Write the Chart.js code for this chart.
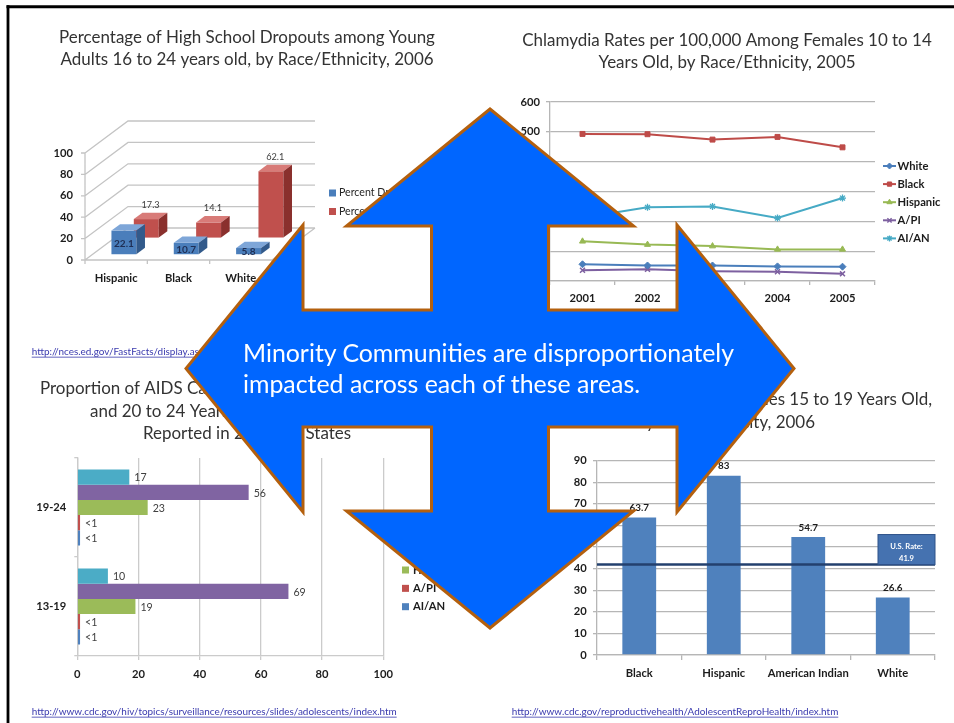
<!DOCTYPE html>
<html>
<head>
<meta charset="utf-8">
<title>Minority Communities</title>
<script src="https://cdn.jsdelivr.net/npm/chart.js@4.4.1/dist/chart.umd.min.js"></script>
<style>
  html, body { margin: 0; padding: 0; background: #ffffff; }
  #slide { position: relative; width: 954px; height: 723px; overflow: hidden; background: #ffffff; }
  #slide canvas { position: absolute; }
  #overlay { position: absolute; left: 0; top: 0; }
</style>
</head>
<body>
<div id="slide">
  <canvas id="chartA"></canvas>
  <canvas id="chartB"></canvas>
  <canvas id="chartC"></canvas>
  <canvas id="chartD"></canvas>
  <svg id="overlay" width="954" height="723" xmlns="http://www.w3.org/2000/svg"></svg>
</div>
<script>
// ---------------- DATA ----------------
const dropoutCategories = ['Hispanic', 'Black', 'White'];
const dropoutSeriesNames = ['Percent Dropouts', 'Percent of Population'];
const percentDropouts = [22.1, 10.7, 5.8];
const percentPopulation = [17.3, 14.1, 62.1];
const dropoutTicks = [0, 20, 40, 60, 80, 100];

const raceGroups = ['White', 'Black', 'Hispanic', 'A/PI', 'AI/AN'];

const chlamydiaYears = ['2001', '2002', '2003', '2004', '2005'];
const chlamydiaWhite = [56, 52, 52, 49, 48];
const chlamydiaBlack = [493, 492, 474, 483, 448];
const chlamydiaHispanic = [133, 122, 117, 106, 106];
const chlamydiaAPI = [36, 39, 33, 31, 24];
const chlamydiaAIAN = [212, 247, 250, 211, 278];
const chlamydiaTicks = [0, 100, 200, 300, 400, 500, 600];

const aidsAgeGroups = ['19-24', '13-19'];
const aidsWhite = [17, 10];
const aidsBlack = [56, 69];
const aidsHispanic = [23, 19];
const aidsAPI = [0.9, 0.9];
const aidsAIAN = [0.9, 0.9];
const aidsTicks = [0, 20, 40, 60, 80, 100];

const birthCategories = ['Black', 'Hispanic', 'American Indian', 'White'];
const birthRates = [63.7, 83, 54.7, 26.6];
const usBirthRate = 41.9;
const usRateLabel = 'U.S. Rate:';
const birthTicks = [0, 10, 20, 30, 40, 50, 60, 70, 80, 90];

const titleA = ['Percentage of High School Dropouts among Young', 'Adults 16 to 24 years old, by Race/Ethnicity, 2006'];
const titleB = ['Chlamydia Rates per 100,000 Among Females 10 to 14', 'Years Old, by Race/Ethnicity, 2005'];
const titleC = ['Proportion of AIDS Cases among Adolescents 13 to 19', 'and 20 to 24 Years, by Race/Ethnicity,', 'Reported in 2006, 33 States'];
const titleD = ['Birth Rates Among Females 15 to 19 Years Old,', 'by Race/Ethnicity, 2006'];
const sourceA = 'http://nces.ed.gov/FastFacts/display.asp?id=16';
const sourceC = 'http://www.cdc.gov/hiv/topics/surveillance/resources/slides/adolescents/index.htm';
const sourceD = 'http://www.cdc.gov/reproductivehealth/AdolescentReproHealth/index.htm';
const message = ['Minority Communities are disproportionately', 'impacted across each of these areas.'];

// ---------------- STYLE HELPERS ----------------
const FAMILY = 'Lato, "Open Sans", "DejaVu Sans", sans-serif';
const INK = '#1c1c1c';
const TITLE_INK = '#333333';
const LINK = '#3a3aae';
Chart.defaults.font.family = FAMILY;

const meas = document.createElement('canvas').getContext('2d');
function fitSize(t, weight, width) {
  meas.font = weight + ' 100px ' + FAMILY;
  return 100 * width / meas.measureText(t).width;
}
const TITLE_SIZE = fitSize(titleB[0], 'normal', 410);
const AXIS_SIZE = fitSize('American Indian', 'bold', 81);
const URL_SIZE = fitSize(sourceC, 'normal', 365.6);
const BIG_SIZE = fitSize(message[0], 'normal', 492);

function fnt(size, weight) { return (weight || 'normal') + ' ' + size.toFixed(2) + 'px ' + FAMILY; }
function text(ctx, s, x, y, size, weight, color, align, baseline) {
  ctx.font = fnt(size, weight);
  ctx.fillStyle = color;
  ctx.textAlign = align || 'left';
  ctx.textBaseline = baseline || 'alphabetic';
  ctx.fillText(s, x, y);
}
function link(ctx, s, x, y) {
  text(ctx, s, x, y, URL_SIZE, 'normal', LINK, 'left', 'middle');
  const w = ctx.measureText(s).width;
  ctx.strokeStyle = LINK; ctx.lineWidth = 0.8;
  ctx.beginPath(); ctx.moveTo(x, y + URL_SIZE * 0.55); ctx.lineTo(x + w, y + URL_SIZE * 0.55); ctx.stroke();
}
function setup(id, o) {
  const c = document.getElementById(id);
  c.width = o.w; c.height = o.h;
  c.style.left = o.x + 'px'; c.style.top = o.y + 'px';
  c.style.width = o.w + 'px'; c.style.height = o.h + 'px';
  return c;
}
function padFor(o, area, wY, hX) {
  return { left: area.l - o.x - wY, top: area.t - o.y, right: o.w - (area.r - o.x), bottom: o.h - (area.b - o.y) - hX };
}
function labelPad(center, edge, tl) { return center - edge - tl - AXIS_SIZE * 0.6; }
function baseOptions(o, area, wY, hX) {
  return {
    responsive: false, animation: false, events: [],
    layout: { autoPadding: false, padding: padFor(o, area, wY, hX) },
    plugins: { legend: { display: false }, title: { display: false }, tooltip: { enabled: false } }
  };
}
function tickFont() { return { family: FAMILY, size: AXIS_SIZE, weight: 'bold' }; }
function xTicks(pad) { return { font: tickFont(), color: INK, padding: pad, maxRotation: 0, minRotation: 0, autoSkip: false }; }
function useTicks(arr) { return s => { s.ticks = arr.map(v => ({ value: v })); }; }
function marker(ctx, style, r, bw, x, y) {
  if (Chart.helpers && Chart.helpers.drawPoint) {
    Chart.helpers.drawPoint(ctx, { pointStyle: style, radius: r, borderWidth: bw, rotation: 0 }, x, y);
  } else {
    ctx.beginPath(); ctx.arc(x, y, r, 0, Math.PI * 2); ctx.fill();
  }
}

// ---------------- CHART A : 3-D columns ----------------
const oA = { x: 10, y: 10, w: 474, h: 350 };
const areaA = { l: 85, r: 272, t: 153, b: 260 };
const DEPTH = { x: 43, y: -32 };
const ROWS = [0.18, 0.70];
const SLAB = 0.2;
const faceA = [
  { front: '#4a7ebb', top: '#7ea6d8', side: '#325a8b' },
  { front: '#c0504d', top: '#d87b78', side: '#8a302d' }
];
const GRID_A = '#c4c4c4';

const plugin3D = {
  id: 'threeD',
  beforeDatasetsDraw(chart) {
    const { ctx, chartArea: a, scales: { y } } = chart;
    ctx.save();
    ctx.strokeStyle = GRID_A; ctx.lineWidth = 1.3;
    ctx.beginPath();
    y.ticks.forEach(t => {
      const py = y.getPixelForValue(t.value);
      ctx.moveTo(a.left, py); ctx.lineTo(a.left + DEPTH.x, py + DEPTH.y); ctx.lineTo(a.right + DEPTH.x, py + DEPTH.y);
      ctx.moveTo(a.left - 4, py); ctx.lineTo(a.left, py);
    });
    ctx.moveTo(a.left, a.top); ctx.lineTo(a.left, a.bottom); ctx.lineTo(a.right, a.bottom); ctx.lineTo(a.right + DEPTH.x, a.bottom + DEPTH.y);
    const n = chart.data.labels.length;
    for (let i = 0; i <= n; i++) {
      const px = a.left + i * (a.right - a.left) / n;
      ctx.moveTo(px, a.bottom); ctx.lineTo(px, a.bottom + 4);
    }
    ctx.stroke();
    ctx.restore();
  },
  beforeDatasetDraw(chart, args) {
    const f = ROWS[args.index];
    chart.ctx.save();
    chart.ctx.translate(DEPTH.x * f, DEPTH.y * f);
  },
  afterDatasetDraw(chart, args) {
    const ctx = chart.ctx;
    const c = faceA[args.index];
    const dx = DEPTH.x * SLAB, dy = DEPTH.y * SLAB;
    args.meta.data.forEach(el => {
      const l = el.x - el.width / 2, r = el.x + el.width / 2, t = el.y, b = el.base;
      ctx.fillStyle = c.top;
      ctx.beginPath(); ctx.moveTo(l, t); ctx.lineTo(r, t); ctx.lineTo(r + dx, t + dy); ctx.lineTo(l + dx, t + dy); ctx.closePath(); ctx.fill();
      ctx.fillStyle = c.side;
      ctx.beginPath(); ctx.moveTo(r, t); ctx.lineTo(r + dx, t + dy); ctx.lineTo(r + dx, b + dy); ctx.lineTo(r, b); ctx.closePath(); ctx.fill();
    });
    ctx.restore();
  },
  afterDatasetsDraw(chart) {
    const ctx = chart.ctx;
    const m0 = chart.getDatasetMeta(0), m1 = chart.getDatasetMeta(1);
    m0.data.forEach((el, i) => {
      const f = ROWS[0];
      text(ctx, String(chart.data.datasets[0].data[i]), el.x + DEPTH.x * f, (el.y + el.base) / 2 + DEPTH.y * f + 1,
        AXIS_SIZE * 0.9, 'bold', '#1f2f55', 'center', 'middle');
    });
    m1.data.forEach((el, i) => {
      const f = ROWS[1];
      text(ctx, String(chart.data.datasets[1].data[i]), el.x + DEPTH.x * (f + SLAB / 2), el.y + DEPTH.y * (f + SLAB) - 8,
        AXIS_SIZE * 0.82, 'normal', '#404040', 'center', 'middle');
    });
  },
  afterDraw(chart) {
    const ctx = chart.ctx;
    ctx.save(); ctx.translate(-oA.x, -oA.y);
    text(ctx, titleA[0], 247, 42.7, TITLE_SIZE, 'normal', TITLE_INK, 'center');
    text(ctx, titleA[1], 247, 65, TITLE_SIZE, 'normal', TITLE_INK, 'center');
    chart.data.datasets.forEach((ds, i) => {
      const y = 193 + i * 18.5;
      ctx.fillStyle = faceA[i].front; ctx.fillRect(329, y - 3.5, 7, 7);
      text(ctx, ds.label, 339, y, AXIS_SIZE * 0.95, 'normal', '#262626', 'left', 'middle');
    });
    link(ctx, sourceA, 31.7, 351.7);
    ctx.restore();
  }
};

new Chart(setup('chartA', oA), {
  type: 'bar',
  data: {
    labels: dropoutCategories,
    datasets: [
      { label: dropoutSeriesNames[0], data: percentDropouts, backgroundColor: faceA[0].front },
      { label: dropoutSeriesNames[1], data: percentPopulation, backgroundColor: faceA[1].front }
    ]
  },
  options: Object.assign(baseOptions(oA, areaA, 60, 30), {
    datasets: { bar: { grouped: false, barPercentage: 0.4, categoryPercentage: 1, clip: false, borderWidth: 0 } },
    scales: {
      x: { grid: { display: false, drawTicks: false }, border: { display: false },
           ticks: xTicks(labelPad(278.5, 260, 0)),
           afterFit: s => { s.height = 30; } },
      y: { min: 0, max: 100, afterBuildTicks: useTicks(dropoutTicks),
           grid: { display: false, drawTicks: false }, border: { display: false },
           ticks: { font: tickFont(), color: INK, padding: 12 },
           afterFit: s => { s.width = 60; } }
    }
  }),
  plugins: [plugin3D]
});

// ---------------- CHART B : lines ----------------
const oB = { x: 484, y: 10, w: 470, h: 350 };
const areaB = { l: 550, r: 875, t: 102, b: 281 };
const GRID_B = '#b6b6b6';
const styleB = [
  { color: '#4a7ebb', point: 'rectRot', r: 3.5, bw: 1 },
  { color: '#be4b48', point: 'rect', r: 3.5, bw: 1 },
  { color: '#98b954', point: 'triangle', r: 3.5, bw: 1 },
  { color: '#7d60a0', point: 'crossRot', r: 3.5, bw: 1.5 },
  { color: '#46aac5', point: 'star', r: 3.5, bw: 1.3 }
];
const seriesB = [chlamydiaWhite, chlamydiaBlack, chlamydiaHispanic, chlamydiaAPI, chlamydiaAIAN];

const pluginB = {
  id: 'decorB',
  afterDraw(chart) {
    const ctx = chart.ctx;
    ctx.save(); ctx.translate(-oB.x, -oB.y);
    text(ctx, titleB[0], 727, 45.5, TITLE_SIZE, 'normal', TITLE_INK, 'center');
    text(ctx, titleB[1], 727, 68, TITLE_SIZE, 'normal', TITLE_INK, 'center');
    chart.data.datasets.forEach((ds, i) => {
      const y = 166 + i * 18.1;
      ctx.strokeStyle = ds.borderColor; ctx.fillStyle = ds.backgroundColor; ctx.lineWidth = 2;
      ctx.beginPath(); ctx.moveTo(883, y); ctx.lineTo(896, y); ctx.stroke();
      ctx.lineWidth = ds.pointBorderWidth;
      marker(ctx, ds.pointStyle, 3, ds.pointBorderWidth, 889.5, y);
      text(ctx, ds.label, 897.5, y, AXIS_SIZE, 'bold', INK, 'left', 'middle');
    });
    ctx.restore();
  }
};

new Chart(setup('chartB', oB), {
  type: 'line',
  data: {
    labels: chlamydiaYears,
    datasets: raceGroups.map((g, i) => ({
      label: g, data: seriesB[i],
      borderColor: styleB[i].color, backgroundColor: styleB[i].color,
      pointStyle: styleB[i].point, pointRadius: styleB[i].r, pointBorderWidth: styleB[i].bw,
      borderWidth: 2, tension: 0, clip: false
    }))
  },
  options: Object.assign(baseOptions(oB, areaB, 50, 30), {
    scales: {
      x: { offset: true,
           grid: { display: true, drawOnChartArea: false, drawTicks: true, tickLength: 4, offset: true, color: GRID_B, lineWidth: 1.3 },
           border: { display: true, color: GRID_B, width: 1.3 },
           ticks: xTicks(labelPad(298.5, 281, 4)),
           afterFit: s => { s.height = 30; } },
      y: { min: 0, max: 600, afterBuildTicks: useTicks(chlamydiaTicks),
           grid: { color: GRID_B, lineWidth: 1.3, tickLength: 4 },
           border: { display: true, color: GRID_B, width: 1.3 },
           ticks: { font: tickFont(), color: INK, padding: 6 },
           afterFit: s => { s.width = 50; } }
    }
  }),
  plugins: [pluginB]
});

// ---------------- CHART C : horizontal bars ----------------
const oC = { x: 10, y: 360, w: 474, h: 363 };
const areaC = { l: 77.3, r: 383.3, t: 458, b: 656 };
const GRID_C = '#cbcbcb';
const colorsC = ['#4bacc6', '#8064a2', '#9bbb59', '#c0504d', '#4f81bd'];
const seriesC = [aidsWhite, aidsBlack, aidsHispanic, aidsAPI, aidsAIAN];

const pluginC = {
  id: 'decorC',
  afterDatasetsDraw(chart) {
    const ctx = chart.ctx;
    chart.data.datasets.forEach((ds, d) => {
      chart.getDatasetMeta(d).data.forEach((el, i) => {
        const v = ds.data[i];
        text(ctx, v < 1 ? '<1' : String(v), el.x + 5, el.y + 1, AXIS_SIZE * 0.95, 'normal', '#404040', 'left', 'middle');
      });
    });
  },
  afterDraw(chart) {
    const ctx = chart.ctx;
    ctx.save(); ctx.translate(-oC.x, -oC.y);
    text(ctx, titleC[0], 40, 394.3, TITLE_SIZE, 'normal', TITLE_INK, 'left');
    text(ctx, titleC[1], 90, 416.7, TITLE_SIZE, 'normal', TITLE_INK, 'left');
    text(ctx, titleC[2], 247, 439, TITLE_SIZE, 'normal', TITLE_INK, 'center');
    chart.data.datasets.forEach((ds, i) => {
      const y = 533.3 + i * 18.35;
      ctx.fillStyle = ds.backgroundColor; ctx.fillRect(402, y - 3.5, 7, 7);
      text(ctx, ds.label, 413, y, AXIS_SIZE, 'bold', INK, 'left', 'middle');
    });
    link(ctx, sourceC, 31.7, 711.7);
    ctx.restore();
  }
};

new Chart(setup('chartC', oC), {
  type: 'bar',
  data: {
    labels: aidsAgeGroups,
    datasets: raceGroups.map((g, i) => ({ label: g, data: seriesC[i], backgroundColor: colorsC[i] }))
  },
  options: Object.assign(baseOptions(oC, areaC, 50, 30), {
    indexAxis: 'y',
    datasets: { bar: { categoryPercentage: 0.77, barPercentage: 1, borderWidth: 0 } },
    scales: {
      x: { min: 0, max: 100, afterBuildTicks: useTicks(aidsTicks),
           grid: { color: GRID_C, lineWidth: 1.3, tickLength: 4 },
           border: { display: true, color: GRID_C, width: 1.3 },
           ticks: xTicks(labelPad(674.3, 656, 4)),
           afterFit: s => { s.height = 30; } },
      y: { grid: { display: true, drawOnChartArea: false, tickLength: 3, offset: true, color: GRID_C, lineWidth: 1.3 },
           border: { display: true, color: GRID_C, width: 1.3 },
           ticks: { font: tickFont(), color: INK, padding: 8 },
           afterFit: s => { s.width = 50; } }
    }
  }),
  plugins: [pluginC]
});

// ---------------- CHART D : columns with U.S. rate ----------------
const oD = { x: 484, y: 360, w: 470, h: 363 };
const areaD = { l: 597, r: 935, t: 460.7, b: 655 };
const GRID_D = '#b6b6b6';

const pluginD = {
  id: 'decorD',
  afterDatasetsDraw(chart) {
    const ctx = chart.ctx;
    const a = chart.chartArea, y = chart.scales.y;
    chart.getDatasetMeta(0).data.forEach((el, i) => {
      text(ctx, String(chart.data.datasets[0].data[i]), el.x, el.y - 9.5, AXIS_SIZE * 0.88, 'bold', INK, 'center', 'middle');
    });
    const py = y.getPixelForValue(usBirthRate);
    ctx.save();
    ctx.strokeStyle = '#23406e'; ctx.lineWidth = 2.5;
    ctx.beginPath(); ctx.moveTo(a.left, py); ctx.lineTo(a.right, py); ctx.stroke();
    const x0 = a.right - 57, y0 = py - 30;
    ctx.fillStyle = '#4572b0'; ctx.fillRect(x0, y0, 57, 30);
    ctx.strokeStyle = '#2e5289'; ctx.lineWidth = 1; ctx.strokeRect(x0, y0, 57, 30);
    text(ctx, usRateLabel, x0 + 28.5, y0 + 12, 7.6, 'bold', '#ffffff', 'center', 'middle');
    text(ctx, String(usBirthRate), x0 + 28.5, y0 + 24, 7.6, 'bold', '#ffffff', 'center', 'middle');
    ctx.restore();
  },
  afterDraw(chart) {
    const ctx = chart.ctx;
    ctx.save(); ctx.translate(-oD.x, -oD.y);
    text(ctx, titleD[0], 932, 405, TITLE_SIZE, 'normal', TITLE_INK, 'right');
    text(ctx, titleD[1], 815, 428, TITLE_SIZE, 'normal', TITLE_INK, 'right');
    link(ctx, sourceD, 511.7, 711.7);
    ctx.restore();
  }
};

new Chart(setup('chartD', oD), {
  type: 'bar',
  data: {
    labels: birthCategories,
    datasets: [{ label: 'Birth Rate', data: birthRates, backgroundColor: '#4f81bd' }]
  },
  options: Object.assign(baseOptions(oD, areaD, 50, 30), {
    datasets: { bar: { categoryPercentage: 1, barPercentage: 0.4, borderWidth: 0 } },
    scales: {
      x: { grid: { display: true, drawOnChartArea: false, tickLength: 5, offset: true, color: GRID_D, lineWidth: 1.3 },
           border: { display: true, color: GRID_D, width: 1.3 },
           ticks: xTicks(labelPad(673, 655, 5)),
           afterFit: s => { s.height = 30; } },
      y: { min: 0, max: 90, afterBuildTicks: useTicks(birthTicks),
           grid: { color: GRID_D, lineWidth: 1.3, tickLength: 4 },
           border: { display: true, color: GRID_D, width: 1.3 },
           ticks: { font: tickFont(), color: INK, padding: 6.3 },
           afterFit: s => { s.width = 50; } }
    }
  }),
  plugins: [pluginD]
});

// ---------------- OVERLAY : slide frame + four-way arrow ----------------
(function () {
  const svg = document.getElementById('overlay');
  const NS = 'http://www.w3.org/2000/svg';
  function el(name, attrs, content) {
    const e = document.createElementNS(NS, name);
    for (const k in attrs) e.setAttribute(k, attrs[k]);
    if (content) e.textContent = content;
    svg.appendChild(e);
    return e;
  }
  el('line', { x1: 6.5, y1: 6.7, x2: 954, y2: 6.7, stroke: '#000', 'stroke-width': 3 });
  el('line', { x1: 8, y1: 5.2, x2: 8, y2: 723, stroke: '#000', 'stroke-width': 2.8 });

  const cx = 490, cy = 368.5, H = 259.5, W = 304, L = 117, hw = 143.5, sw = 58.5;
  const pts = [
    [cx, cy - H], [cx + hw, cy - H + L], [cx + sw, cy - H + L], [cx + sw, cy - sw],
    [cx + W - L, cy - sw], [cx + W - L, cy - hw], [cx + W, cy], [cx + W - L, cy + hw],
    [cx + W - L, cy + sw], [cx + sw, cy + sw], [cx + sw, cy + H - L], [cx + hw, cy + H - L],
    [cx, cy + H], [cx - hw, cy + H - L], [cx - sw, cy + H - L], [cx - sw, cy + sw],
    [cx - W + L, cy + sw], [cx - W + L, cy + hw], [cx - W, cy], [cx - W + L, cy - hw],
    [cx - W + L, cy - sw], [cx - sw, cy - sw], [cx - sw, cy - H + L], [cx - hw, cy - H + L]
  ];
  el('polygon', { points: pts.map(p => p.join(',')).join(' '), fill: '#0066ff', stroke: '#b4600e', 'stroke-width': 3, 'stroke-linejoin': 'miter' });
  el('text', { x: 243, y: 361.5, fill: '#ffffff', 'font-family': FAMILY, 'font-size': BIG_SIZE.toFixed(2) }, message[0]);
  el('text', { x: 243, y: 393, fill: '#ffffff', 'font-family': FAMILY, 'font-size': BIG_SIZE.toFixed(2) }, message[1]);
})();
</script>
</body>
</html>
